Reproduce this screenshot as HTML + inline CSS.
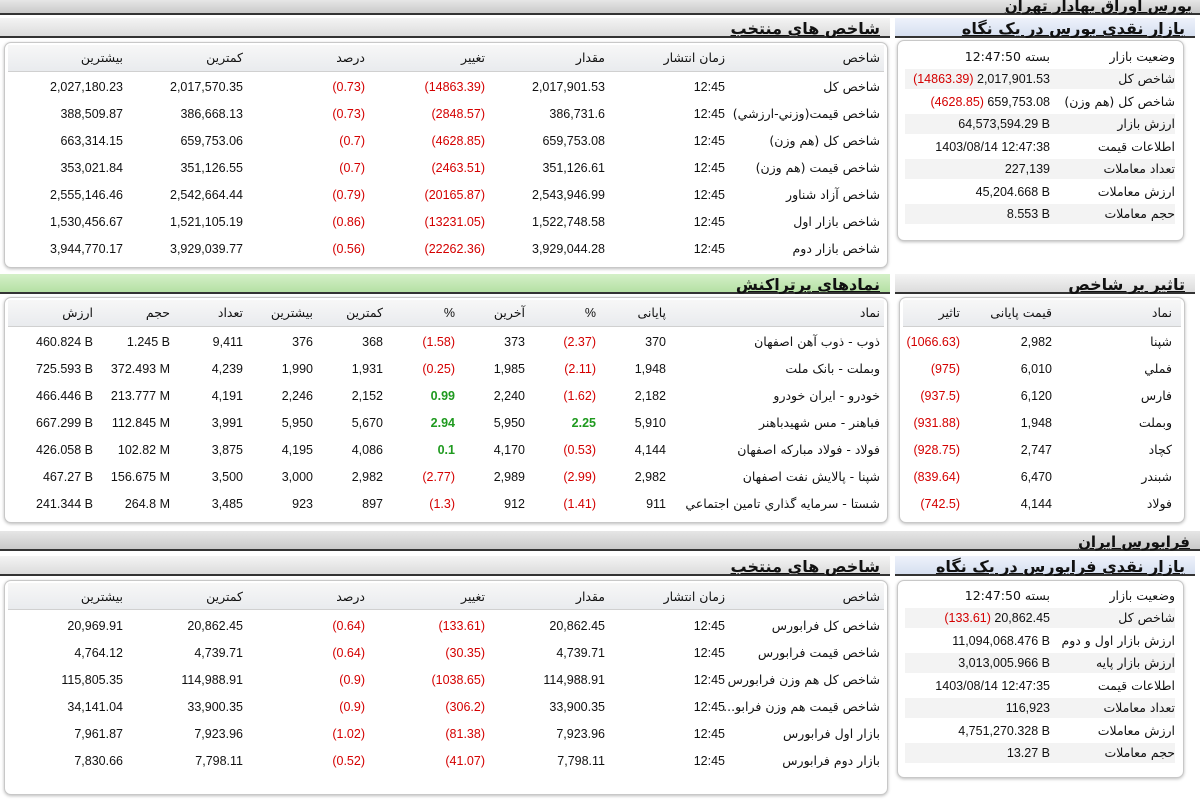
<!DOCTYPE html>
<html><head><meta charset="utf-8">
<style>
*{margin:0;padding:0;box-sizing:border-box}
body{width:1200px;height:800px;background:#fff;position:relative;overflow:hidden;font-family:"Liberation Sans","DejaVu Sans",sans-serif;font-size:12.5px;color:#111}
.c{position:absolute;white-space:nowrap;line-height:14px}
.r{color:#d40000}
.g{color:#1f9a1f;font-weight:bold}
.bar{position:absolute;left:0;width:1200px;background:linear-gradient(#e6e6e6,#c9c9c9);border-bottom:2px solid #333}
.ttl{position:absolute;font-weight:bold;font-size:14px;text-decoration:underline;direction:rtl;white-space:nowrap;font-family:"DejaVu Sans",sans-serif}
.ph{position:absolute;height:20px;background:linear-gradient(#f4f4f4,#dcdcdc);border-bottom:2px solid #333}
.ph.b{background:linear-gradient(#eef2fb,#d6dff0)}
.ph.gr{background:linear-gradient(#d4f0c8,#b5e0a4)}
.box{position:absolute;background:#fff;border:1px solid #c8c8c8;border-radius:7px;box-shadow:0 1px 3px #bbb}
.hd{position:absolute;background:linear-gradient(#f7f7f7,#e9ebee);border-bottom:1px solid #d0d0d0}
.rt{direction:rtl;font-family:"DejaVu Sans",sans-serif;font-size:12.5px}
.lb{position:absolute;background:#f3f3f3;height:20px}
</style></head><body>

<div class="bar" style="top:0;height:15px"></div>
<div class="ttl" style="right:8px;top:-3px;font-size:15px">بورس اوراق بهادار تهران</div>

<div class="ph" style="left:0;width:890px;top:18px"></div>
<div class="ttl" style="right:320px;top:19px;font-size:16px">شاخص های منتخب</div>
<div class="ph b" style="left:895px;width:300px;top:18px"></div>
<div class="ttl" style="right:15px;top:19px;font-size:16px">بازار نقدی بورس در یک نگاه</div>

<div class="box" style="left:4px;top:42px;width:884px;height:226px"></div>
<div class="hd" style="left:8px;top:45px;width:876px;height:27px"></div>
<div class="box" style="left:897px;top:40px;width:287px;height:201px"></div>

<div class="c rt" style="right:320px;top:51px">شاخص</div>
<div class="c rt" style="right:475px;top:51px">زمان انتشار</div>
<div class="c rt" style="right:595px;top:51px">مقدار</div>
<div class="c rt" style="right:715px;top:51px">تغییر</div>
<div class="c rt" style="right:835px;top:51px">درصد</div>
<div class="c rt" style="right:957px;top:51px">کمترین</div>
<div class="c rt" style="right:1077px;top:51px">بیشترین</div>

<div class="c rt" style="right:320px;top:80px">شاخص کل</div><div class="c" style="right:475px;top:80px">12:45</div><div class="c" style="right:595px;top:80px">2,017,901.53</div><div class="c r" style="right:715px;top:80px">(14863.39)</div><div class="c r" style="right:835px;top:80px">(0.73)</div><div class="c" style="right:957px;top:80px">2,017,570.35</div><div class="c" style="right:1077px;top:80px">2,027,180.23</div>
<div class="c rt" style="right:320px;top:107px">شاخص قیمت(وزني-ارزشي)</div><div class="c" style="right:475px;top:107px">12:45</div><div class="c" style="right:595px;top:107px">386,731.6</div><div class="c r" style="right:715px;top:107px">(2848.57)</div><div class="c r" style="right:835px;top:107px">(0.73)</div><div class="c" style="right:957px;top:107px">386,668.13</div><div class="c" style="right:1077px;top:107px">388,509.87</div>
<div class="c rt" style="right:320px;top:134px">شاخص کل (هم وزن)</div><div class="c" style="right:475px;top:134px">12:45</div><div class="c" style="right:595px;top:134px">659,753.08</div><div class="c r" style="right:715px;top:134px">(4628.85)</div><div class="c r" style="right:835px;top:134px">(0.7)</div><div class="c" style="right:957px;top:134px">659,753.06</div><div class="c" style="right:1077px;top:134px">663,314.15</div>
<div class="c rt" style="right:320px;top:161px">شاخص قیمت (هم وزن)</div><div class="c" style="right:475px;top:161px">12:45</div><div class="c" style="right:595px;top:161px">351,126.61</div><div class="c r" style="right:715px;top:161px">(2463.51)</div><div class="c r" style="right:835px;top:161px">(0.7)</div><div class="c" style="right:957px;top:161px">351,126.55</div><div class="c" style="right:1077px;top:161px">353,021.84</div>
<div class="c rt" style="right:320px;top:188px">شاخص آزاد شناور</div><div class="c" style="right:475px;top:188px">12:45</div><div class="c" style="right:595px;top:188px">2,543,946.99</div><div class="c r" style="right:715px;top:188px">(20165.87)</div><div class="c r" style="right:835px;top:188px">(0.79)</div><div class="c" style="right:957px;top:188px">2,542,664.44</div><div class="c" style="right:1077px;top:188px">2,555,146.46</div>
<div class="c rt" style="right:320px;top:215px">شاخص بازار اول</div><div class="c" style="right:475px;top:215px">12:45</div><div class="c" style="right:595px;top:215px">1,522,748.58</div><div class="c r" style="right:715px;top:215px">(13231.05)</div><div class="c r" style="right:835px;top:215px">(0.86)</div><div class="c" style="right:957px;top:215px">1,521,105.19</div><div class="c" style="right:1077px;top:215px">1,530,456.67</div>
<div class="c rt" style="right:320px;top:242px">شاخص بازار دوم</div><div class="c" style="right:475px;top:242px">12:45</div><div class="c" style="right:595px;top:242px">3,929,044.28</div><div class="c r" style="right:715px;top:242px">(22262.36)</div><div class="c r" style="right:835px;top:242px">(0.56)</div><div class="c" style="right:957px;top:242px">3,929,039.77</div><div class="c" style="right:1077px;top:242px">3,944,770.17</div>

<div class="lb" style="left:905px;width:270px;top:69px"></div>
<div class="lb" style="left:905px;width:270px;top:114px"></div>
<div class="lb" style="left:905px;width:270px;top:159px"></div>
<div class="lb" style="left:905px;width:270px;top:204px"></div>
<div class="c rt" style="right:25px;top:50px">وضعیت بازار</div><div class="c rt" style="right:150px;top:50px">بسته 12:47:50</div>
<div class="c rt" style="right:25px;top:72px">شاخص کل</div><div class="c" style="right:150px;top:72px"><span class="r">(14863.39)</span> 2,017,901.53</div>
<div class="c rt" style="right:25px;top:95px">شاخص کل (هم وزن)</div><div class="c" style="right:150px;top:95px"><span class="r">(4628.85)</span> 659,753.08</div>
<div class="c rt" style="right:25px;top:117px">ارزش بازار</div><div class="c" style="right:150px;top:117px">64,573,594.29 B</div>
<div class="c rt" style="right:25px;top:140px">اطلاعات قیمت</div><div class="c" style="right:150px;top:140px">1403/08/14 12:47:38</div>
<div class="c rt" style="right:25px;top:162px">تعداد معاملات</div><div class="c" style="right:150px;top:162px">227,139</div>
<div class="c rt" style="right:25px;top:185px">ارزش معاملات</div><div class="c" style="right:150px;top:185px">45,204.668 B</div>
<div class="c rt" style="right:25px;top:207px">حجم معاملات</div><div class="c" style="right:150px;top:207px">8.553 B</div>

<div class="ph gr" style="left:0;width:890px;top:274px"></div>
<div class="ttl" style="right:320px;top:275px;font-size:16px">نمادهای پرتراکنش</div>
<div class="ph" style="left:895px;width:300px;top:274px"></div>
<div class="ttl" style="right:15px;top:275px;font-size:16px">تاثیر بر شاخص</div>

<div class="box" style="left:4px;top:297px;width:884px;height:226px"></div>
<div class="hd" style="left:8px;top:300px;width:876px;height:27px"></div>
<div class="box" style="left:899px;top:297px;width:286px;height:226px"></div>
<div class="hd" style="left:903px;top:300px;width:278px;height:27px"></div>

<div class="c rt" style="right:320px;top:306px">نماد</div><div class="c rt" style="right:534px;top:306px">پایانی</div><div class="c" style="right:604px;top:306px">%</div><div class="c rt" style="right:675px;top:306px">آخرین</div><div class="c" style="right:745px;top:306px">%</div><div class="c rt" style="right:817px;top:306px">کمترین</div><div class="c rt" style="right:887px;top:306px">بیشترین</div><div class="c rt" style="right:957px;top:306px">تعداد</div><div class="c rt" style="right:1030px;top:306px">حجم</div><div class="c rt" style="right:1107px;top:306px">ارزش</div>

<div class="c rt" style="right:320px;top:335px">ذوب - ذوب آهن اصفهان</div><div class="c" style="right:534px;top:335px">370</div><div class="c r" style="right:604px;top:335px">(2.37)</div><div class="c" style="right:675px;top:335px">373</div><div class="c r" style="right:745px;top:335px">(1.58)</div><div class="c" style="right:817px;top:335px">368</div><div class="c" style="right:887px;top:335px">376</div><div class="c" style="right:957px;top:335px">9,411</div><div class="c" style="right:1030px;top:335px">1.245 B</div><div class="c" style="right:1107px;top:335px">460.824 B</div>
<div class="c rt" style="right:320px;top:362px">وبملت - بانک ملت</div><div class="c" style="right:534px;top:362px">1,948</div><div class="c r" style="right:604px;top:362px">(2.11)</div><div class="c" style="right:675px;top:362px">1,985</div><div class="c r" style="right:745px;top:362px">(0.25)</div><div class="c" style="right:817px;top:362px">1,931</div><div class="c" style="right:887px;top:362px">1,990</div><div class="c" style="right:957px;top:362px">4,239</div><div class="c" style="right:1030px;top:362px">372.493 M</div><div class="c" style="right:1107px;top:362px">725.593 B</div>
<div class="c rt" style="right:320px;top:389px">خودرو - ایران خودرو</div><div class="c" style="right:534px;top:389px">2,182</div><div class="c r" style="right:604px;top:389px">(1.62)</div><div class="c" style="right:675px;top:389px">2,240</div><div class="c g" style="right:745px;top:389px">0.99</div><div class="c" style="right:817px;top:389px">2,152</div><div class="c" style="right:887px;top:389px">2,246</div><div class="c" style="right:957px;top:389px">4,191</div><div class="c" style="right:1030px;top:389px">213.777 M</div><div class="c" style="right:1107px;top:389px">466.446 B</div>
<div class="c rt" style="right:320px;top:416px">فباهنر - مس شهیدباهنر</div><div class="c" style="right:534px;top:416px">5,910</div><div class="c g" style="right:604px;top:416px">2.25</div><div class="c" style="right:675px;top:416px">5,950</div><div class="c g" style="right:745px;top:416px">2.94</div><div class="c" style="right:817px;top:416px">5,670</div><div class="c" style="right:887px;top:416px">5,950</div><div class="c" style="right:957px;top:416px">3,991</div><div class="c" style="right:1030px;top:416px">112.845 M</div><div class="c" style="right:1107px;top:416px">667.299 B</div>
<div class="c rt" style="right:320px;top:443px">فولاد - فولاد مبارکه اصفهان</div><div class="c" style="right:534px;top:443px">4,144</div><div class="c r" style="right:604px;top:443px">(0.53)</div><div class="c" style="right:675px;top:443px">4,170</div><div class="c g" style="right:745px;top:443px">0.1</div><div class="c" style="right:817px;top:443px">4,086</div><div class="c" style="right:887px;top:443px">4,195</div><div class="c" style="right:957px;top:443px">3,875</div><div class="c" style="right:1030px;top:443px">102.82 M</div><div class="c" style="right:1107px;top:443px">426.058 B</div>
<div class="c rt" style="right:320px;top:470px">شپنا - پالایش نفت اصفهان</div><div class="c" style="right:534px;top:470px">2,982</div><div class="c r" style="right:604px;top:470px">(2.99)</div><div class="c" style="right:675px;top:470px">2,989</div><div class="c r" style="right:745px;top:470px">(2.77)</div><div class="c" style="right:817px;top:470px">2,982</div><div class="c" style="right:887px;top:470px">3,000</div><div class="c" style="right:957px;top:470px">3,500</div><div class="c" style="right:1030px;top:470px">156.675 M</div><div class="c" style="right:1107px;top:470px">467.27 B</div>
<div class="c rt" style="right:320px;top:497px">شستا - سرمایه گذاري تامین اجتماعي</div><div class="c" style="right:534px;top:497px">911</div><div class="c r" style="right:604px;top:497px">(1.41)</div><div class="c" style="right:675px;top:497px">912</div><div class="c r" style="right:745px;top:497px">(1.3)</div><div class="c" style="right:817px;top:497px">897</div><div class="c" style="right:887px;top:497px">923</div><div class="c" style="right:957px;top:497px">3,485</div><div class="c" style="right:1030px;top:497px">264.8 M</div><div class="c" style="right:1107px;top:497px">241.344 B</div>

<div class="c rt" style="right:28px;top:306px">نماد</div><div class="c rt" style="right:148px;top:306px">قیمت پایانی</div><div class="c rt" style="right:240px;top:306px">تاثیر</div>
<div class="c rt" style="right:28px;top:335px">شپنا</div><div class="c" style="right:148px;top:335px">2,982</div><div class="c r" style="right:240px;top:335px">(1066.63)</div>
<div class="c rt" style="right:28px;top:362px">فملي</div><div class="c" style="right:148px;top:362px">6,010</div><div class="c r" style="right:240px;top:362px">(975)</div>
<div class="c rt" style="right:28px;top:389px">فارس</div><div class="c" style="right:148px;top:389px">6,120</div><div class="c r" style="right:240px;top:389px">(937.5)</div>
<div class="c rt" style="right:28px;top:416px">وبملت</div><div class="c" style="right:148px;top:416px">1,948</div><div class="c r" style="right:240px;top:416px">(931.88)</div>
<div class="c rt" style="right:28px;top:443px">کچاد</div><div class="c" style="right:148px;top:443px">2,747</div><div class="c r" style="right:240px;top:443px">(928.75)</div>
<div class="c rt" style="right:28px;top:470px">شبندر</div><div class="c" style="right:148px;top:470px">6,470</div><div class="c r" style="right:240px;top:470px">(839.64)</div>
<div class="c rt" style="right:28px;top:497px">فولاد</div><div class="c" style="right:148px;top:497px">4,144</div><div class="c r" style="right:240px;top:497px">(742.5)</div>

<div class="bar" style="top:531px;height:20px"></div>
<div class="ttl" style="right:10px;top:533px;font-size:15px">فرابورس ایران</div>
<div class="ph" style="left:0;width:890px;top:556px"></div>
<div class="ttl" style="right:320px;top:557px;font-size:16px">شاخص های منتخب</div>
<div class="ph b" style="left:895px;width:300px;top:556px"></div>
<div class="ttl" style="right:15px;top:557px;font-size:16px">بازار نقدی فرابورس در یک نگاه</div>

<div class="box" style="left:4px;top:580px;width:884px;height:215px"></div>
<div class="hd" style="left:8px;top:583px;width:876px;height:27px"></div>
<div class="box" style="left:897px;top:580px;width:287px;height:198px"></div>

<div class="c rt" style="right:320px;top:590px">شاخص</div><div class="c rt" style="right:475px;top:590px">زمان انتشار</div><div class="c rt" style="right:595px;top:590px">مقدار</div><div class="c rt" style="right:715px;top:590px">تغییر</div><div class="c rt" style="right:835px;top:590px">درصد</div><div class="c rt" style="right:957px;top:590px">کمترین</div><div class="c rt" style="right:1077px;top:590px">بیشترین</div>

<div class="c rt" style="right:320px;top:619px">شاخص کل فرابورس</div><div class="c" style="right:475px;top:619px">12:45</div><div class="c" style="right:595px;top:619px">20,862.45</div><div class="c r" style="right:715px;top:619px">(133.61)</div><div class="c r" style="right:835px;top:619px">(0.64)</div><div class="c" style="right:957px;top:619px">20,862.45</div><div class="c" style="right:1077px;top:619px">20,969.91</div>
<div class="c rt" style="right:320px;top:646px">شاخص قیمت فرابورس</div><div class="c" style="right:475px;top:646px">12:45</div><div class="c" style="right:595px;top:646px">4,739.71</div><div class="c r" style="right:715px;top:646px">(30.35)</div><div class="c r" style="right:835px;top:646px">(0.64)</div><div class="c" style="right:957px;top:646px">4,739.71</div><div class="c" style="right:1077px;top:646px">4,764.12</div>
<div class="c rt" style="right:320px;top:673px">شاخص کل هم وزن فرابورس</div><div class="c" style="right:475px;top:673px">12:45</div><div class="c" style="right:595px;top:673px">114,988.91</div><div class="c r" style="right:715px;top:673px">(1038.65)</div><div class="c r" style="right:835px;top:673px">(0.9)</div><div class="c" style="right:957px;top:673px">114,988.91</div><div class="c" style="right:1077px;top:673px">115,805.35</div>
<div class="c rt" style="right:320px;top:700px">شاخص قیمت هم وزن فرابو...</div><div class="c" style="right:475px;top:700px">12:45</div><div class="c" style="right:595px;top:700px">33,900.35</div><div class="c r" style="right:715px;top:700px">(306.2)</div><div class="c r" style="right:835px;top:700px">(0.9)</div><div class="c" style="right:957px;top:700px">33,900.35</div><div class="c" style="right:1077px;top:700px">34,141.04</div>
<div class="c rt" style="right:320px;top:727px">بازار اول فرابورس</div><div class="c" style="right:475px;top:727px">12:45</div><div class="c" style="right:595px;top:727px">7,923.96</div><div class="c r" style="right:715px;top:727px">(81.38)</div><div class="c r" style="right:835px;top:727px">(1.02)</div><div class="c" style="right:957px;top:727px">7,923.96</div><div class="c" style="right:1077px;top:727px">7,961.87</div>
<div class="c rt" style="right:320px;top:754px">بازار دوم فرابورس</div><div class="c" style="right:475px;top:754px">12:45</div><div class="c" style="right:595px;top:754px">7,798.11</div><div class="c r" style="right:715px;top:754px">(41.07)</div><div class="c r" style="right:835px;top:754px">(0.52)</div><div class="c" style="right:957px;top:754px">7,798.11</div><div class="c" style="right:1077px;top:754px">7,830.66</div>

<div class="lb" style="left:905px;width:270px;top:608px"></div>
<div class="lb" style="left:905px;width:270px;top:653px"></div>
<div class="lb" style="left:905px;width:270px;top:698px"></div>
<div class="lb" style="left:905px;width:270px;top:743px"></div>
<div class="c rt" style="right:25px;top:589px">وضعیت بازار</div><div class="c rt" style="right:150px;top:589px">بسته 12:47:50</div>
<div class="c rt" style="right:25px;top:611px">شاخص کل</div><div class="c" style="right:150px;top:611px"><span class="r">(133.61)</span> 20,862.45</div>
<div class="c rt" style="right:25px;top:634px">ارزش بازار اول و دوم</div><div class="c" style="right:150px;top:634px">11,094,068.476 B</div>
<div class="c rt" style="right:25px;top:656px">ارزش بازار پایه</div><div class="c" style="right:150px;top:656px">3,013,005.966 B</div>
<div class="c rt" style="right:25px;top:679px">اطلاعات قیمت</div><div class="c" style="right:150px;top:679px">1403/08/14 12:47:35</div>
<div class="c rt" style="right:25px;top:701px">تعداد معاملات</div><div class="c" style="right:150px;top:701px">116,923</div>
<div class="c rt" style="right:25px;top:724px">ارزش معاملات</div><div class="c" style="right:150px;top:724px">4,751,270.328 B</div>
<div class="c rt" style="right:25px;top:746px">حجم معاملات</div><div class="c" style="right:150px;top:746px">13.27 B</div>

</body></html>
